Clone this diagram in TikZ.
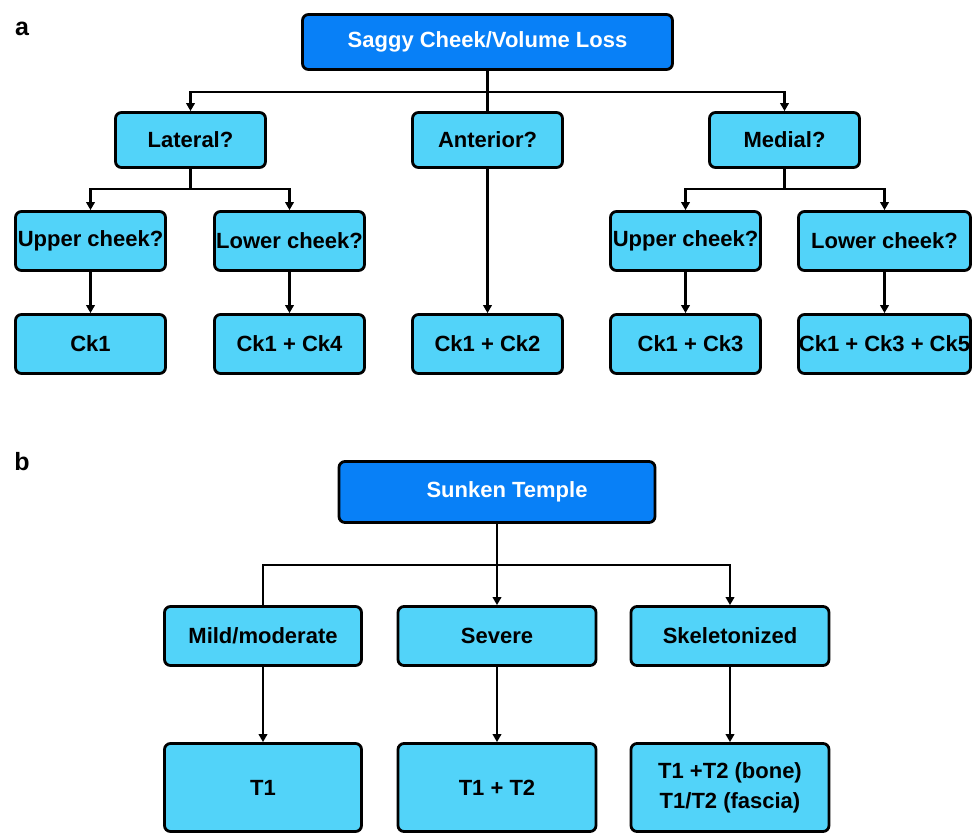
\documentclass[tikz,border=0pt]{standalone}
\usepackage{fontspec}
\setmainfont{Liberation Sans}
\usetikzlibrary{arrows.meta}
\definecolor{db}{RGB}{8,128,247}
\definecolor{lb}{RGB}{82,211,249}
\tikzset{
  box/.style={draw=black, line width=2.8pt, rounded corners=6pt, fill=lb, text=black,
    inner sep=0pt, align=center, font=\fontsize{22}{26}\selectfont\bfseries},
  head/.style={box, fill=db, text=white},
  conn/.style={line width=2.3pt, black},
  arr/.style={conn, -{Triangle[length=8pt,width=8.5pt]}},
  lab/.style={font=\fontsize{25}{28}\selectfont\bfseries, inner sep=0pt}
}
\begin{document}
\begin{tikzpicture}[x=1pt,y=-1pt]
\useasboundingbox (0,0) rectangle (973,835);
\node[lab] (la) at (22,29) {a};
\node[lab] (lbl) at (22,462) {b};
% panel a
\node[head, minimum width=370pt, minimum height=55pt] (top) at (487.5,42) {Saggy Cheek/Volume Loss};
\node[box, minimum width=150pt, minimum height=55pt] (lat) at (190.5,140) {Lateral?};
\node[box, minimum width=150pt, minimum height=55pt] (ant) at (487.5,140) {Anterior?};
\node[box, minimum width=150pt, minimum height=55pt] (med) at (784.5,140) {Medial?};
\node[box, minimum width=150pt, minimum height=59pt] (ul) at (90.5,241) {Upper cheek?};
\node[box, minimum width=150pt, minimum height=59pt] (ll) at (289.5,241) {Lower cheek?};
\node[box, minimum width=150pt, minimum height=59pt] (ur) at (685.5,241) {Upper cheek?};
\node[box, minimum width=172pt, minimum height=59pt] (lr) at (884.5,241) {Lower cheek?};
\node[box, minimum width=150pt, minimum height=59pt] (c1) at (90.5,344) {Ck1};
\node[box, minimum width=150pt, minimum height=59pt] (c14) at (289.5,344) {Ck1 + Ck4};
\node[box, minimum width=150pt, minimum height=59pt] (c12) at (487.5,344) {Ck1 + Ck2};
\node[box, minimum width=150pt, minimum height=59pt] (c13) at (685.5,344) {\hspace{10pt}Ck1 + Ck3};
\node[box, minimum width=172pt, minimum height=59pt] (c135) at (884.5,344) {Ck1 + Ck3 + Ck5};
\coordinate (j1) at (487.5,92);
\coordinate (j2) at (190.5,189);
\coordinate (j3) at (784.5,189);
\draw[conn] (top.south) -- (ant.north);
\draw[arr] (j1) -| (lat.north);
\draw[arr] (j1) -| (med.north);
\draw[conn] (lat.south) -- (j2);
\draw[arr] (j2) -| (ul.north);
\draw[arr] (j2) -| (ll.north);
\draw[conn] (med.south) -- (j3);
\draw[arr] (j3) -| (ur.north);
\draw[arr] (j3) -| (lr.north);
\draw[arr] (ul) -- (c1);
\draw[arr] (ll) -- (c14);
\draw[arr] (ant) -- (c12);
\draw[arr] (ur) -- (c13);
\draw[arr] (lr) -- (c135);
% panel b
\tikzset{box/.append style={font=\fontsize{22}{30}\selectfont\bfseries}}
\node[head, minimum width=316pt, minimum height=61pt] (st) at (497,492) {\hspace{20pt}Sunken Temple};
\node[box, minimum width=197pt, minimum height=59pt] (mm) at (263,636) {Mild/moderate};
\node[box, minimum width=198pt, minimum height=59pt] (sv) at (497,636) {Severe};
\node[box, minimum width=198pt, minimum height=59pt] (sk) at (730,636) {Skeletonized};
\node[box, minimum width=197pt, minimum height=88pt] (t1) at (263,787.5) {T1};
\node[box, minimum width=198pt, minimum height=88pt] (t12) at (497,787.5) {T1 + T2};
\node[box, minimum width=198pt, minimum height=88pt] (t3) at (730,787.5) {T1 +T2 (bone)\\T1/T2 (fascia)};
\coordinate (j4) at (497,565);
\draw[arr] (st) -- (sv);
\draw[conn] (j4) -| (mm.north);
\draw[arr] (j4) -| (sk.north);
\draw[arr] (mm) -- (t1);
\draw[arr] (sv) -- (t12);
\draw[arr] (sk) -- (t3);
\end{tikzpicture}
\end{document}
